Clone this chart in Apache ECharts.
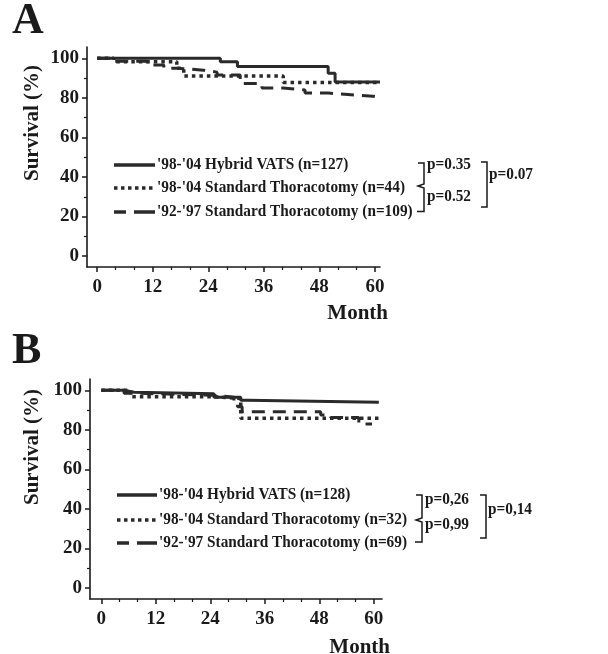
<!DOCTYPE html>
<html><head><meta charset="utf-8">
<script src="https://cdn.jsdelivr.net/npm/echarts@6/dist/echarts.min.js"></script>
<style>html,body{margin:0;padding:0;background:#fff}#c{width:608px;height:654px}</style>
</head><body><div id="c"></div>
<script>
// ---- data ----
const monthTicks = [0, 12, 24, 36, 48, 60];
const monthMinorTicks = [4, 8, 16, 20, 28, 32, 40, 44, 52, 56];
const survivalTicks = [0, 20, 40, 60, 80, 100];
const survivalMinorTicks = [10, 30, 50, 70, 90];
const seriesNames = ["'98-'04 Hybrid VATS", "'98-'04 Standard Thoracotomy", "'92-'97 Standard Thoracotomy"];

// Panel A
const aHybridMonths = [0, 26.6, 30.3, 49.9, 51.4, 61.1];
const aHybridSurv   = [100, 98.3, 95.8, 92.4, 88, 88];
const aStd9804Months = [0, 3.6, 17.2, 18.7, 40.2, 61.1];
const aStd9804Surv   = [100, 98.3, 95, 91, 87.8, 87.8];
const aStd9297Months = [0, 3.5, 10.8, 14.4, 17.2, 23, 25.9, 30.9, 35.6, 40.2, 44.9, 49.9, 54.2, 59.6, 61.1];
const aStd9297Surv   = [100, 98.5, 96.6, 95, 94, 93, 91.5, 87.3, 85, 84, 82.4, 81.7, 80.8, 80.2, 80.2];
const aLegend = ["'98-'04 Hybrid VATS (n=127)", "'98-'04 Standard Thoracotomy (n=44)", "'92-'97 Standard Thoracotomy (n=109)"];
const aPvalues = ["p=0.35", "p=0.52", "p=0.07"];

// Panel B
const bHybridMonths = [0, 5, 7.2, 24.8, 30.7, 32.1, 61.1];
const bHybridSurv   = [100, 99, 98.3, 96.5, 95, 94, 94];
const bStd9804Months = [0, 6.5, 24.8, 30.7, 61.1];
const bStd9804Surv   = [100, 96.7, 95.8, 85.8, 85.8];
const bStd9297Months = [0, 5, 8, 24.8, 29.2, 30, 31, 48.3, 50.5, 56.7, 59.6];
const bStd9297Surv   = [100, 98.5, 97.5, 96.5, 93.5, 91.7, 89.2, 87.5, 86.3, 83, 83];
const bLegend = ["'98-'04 Hybrid VATS (n=128)", "'98-'04 Standard Thoracotomy (n=32)", "'92-'97 Standard Thoracotomy (n=69)"];
const bPvalues = ["p=0,26", "p=0,99", "p=0,14"];

// ---- styling ----
const FONT = "'Liberation Serif', 'DejaVu Serif', serif";
const INK = '#1a1a1a';
const lineStyles = [
  {type: 'solid', width: 3},
  {type: [3.5, 4], width: 3.5},
  {type: [13, 8], width: 3}
];

const chart = echarts.init(document.getElementById('c'), null, {renderer: 'canvas'});

function pairs(ms, ss) { return ms.map((m, i) => [m, ss[i]]); }

const grids = [
  {left: 87, top: 47, width: 293, height: 220},
  {left: 90, top: 379, width: 292, height: 220}
];
const xRanges = [[-2.2, 61.1], [-2.5, 61.8]];
const yMin = -5.5, yMax = 105.7;

const xAxes = [], yAxes = [];
[0, 1].forEach(g => {
  xAxes.push({
    type: 'value', gridIndex: g, position: 'bottom', min: xRanges[g][0], max: xRanges[g][1],
    axisLine: {show: true, onZero: false, lineStyle: {color: INK, width: 1.6}},
    axisTick: {show: true, customValues: monthTicks, length: 5, lineStyle: {color: INK, width: 1.5}},
    axisLabel: {show: true, customValues: monthTicks, margin: 11, fontFamily: FONT, fontWeight: 'bold', fontSize: 19, color: INK},
    splitLine: {show: false}
  });
  xAxes.push({
    type: 'value', gridIndex: g, position: 'bottom', offset: 0, min: xRanges[g][0], max: xRanges[g][1],
    axisLine: {show: false, onZero: false},
    axisTick: {show: true, customValues: monthMinorTicks, length: 3, lineStyle: {color: INK, width: 1.2}},
    axisLabel: {show: false}, splitLine: {show: false}
  });
  yAxes.push({
    type: 'value', gridIndex: g, position: 'left', min: yMin, max: yMax,
    axisLine: {show: true, onZero: false, lineStyle: {color: INK, width: 1.6}},
    axisTick: {show: true, customValues: survivalTicks, length: 5, lineStyle: {color: INK, width: 1.5}},
    axisLabel: {show: true, customValues: survivalTicks, margin: 8, fontFamily: FONT, fontWeight: 'bold', fontSize: 19, color: INK},
    splitLine: {show: false}
  });
  yAxes.push({
    type: 'value', gridIndex: g, position: 'left', offset: 0, min: yMin, max: yMax,
    axisLine: {show: false, onZero: false},
    axisTick: {show: true, customValues: survivalMinorTicks, length: 3, lineStyle: {color: INK, width: 1.2}},
    axisLabel: {show: false}, splitLine: {show: false}
  });
});

const panelData = [
  [pairs(aHybridMonths, aHybridSurv), pairs(aStd9804Months, aStd9804Surv), pairs(aStd9297Months, aStd9297Surv)],
  [pairs(bHybridMonths, bHybridSurv), pairs(bStd9804Months, bStd9804Surv), pairs(bStd9297Months, bStd9297Surv)]
];
const series = [];
panelData.forEach((sets, g) => {
  sets.forEach((d, k) => {
    series.push({
      type: 'line', name: seriesNames[k], step: 'end', data: d,
      xAxisIndex: g * 2, yAxisIndex: g * 2,
      symbol: 'none', silent: true, animation: false,
      lineStyle: {color: '#2a2a2a', width: lineStyles[k].width, type: lineStyles[k].type, cap: 'butt'}
    });
  });
});

// ---- text / legend / brackets as graphics ----
const g = [];
function txt(s, x, y, size, opts) {
  g.push(Object.assign({type: 'text', x: x, y: y, silent: true,
    style: Object.assign({text: s, fill: INK, fontFamily: FONT, fontWeight: 'bold', fontSize: size, align: 'left', verticalAlign: 'middle'}, (opts && opts.style) || {})},
    (opts && opts.el) || {}));
}
function seg(x1, y1, x2, y2, w, dash) {
  g.push({type: 'line', silent: true, shape: {x1, y1, x2, y2},
    style: {stroke: '#2a2a2a', lineWidth: w, lineDash: dash || null}});
}
function poly(pts, w) {
  g.push({type: 'polyline', silent: true, shape: {points: pts}, style: {stroke: INK, fill: null, lineWidth: w}});
}
const NARROW = {scaleX: 0.9};

function panelText(p) {
  txt(p.letter, 12, p.letterY, 44, {style: {verticalAlign: 'bottom'}});
  txt('Survival (%)', 33, p.yNameCY, 21, {style: {align: 'center'}, el: {rotation: Math.PI / 2}});
  txt('Month', p.monthX, p.monthY, 21, {style: {align: 'right'}});
  const r = p.rows, x0 = p.legX0, x1 = p.legX1;
  seg(x0, r[0], x1, r[0], 3.5);
  seg(x0, r[1], x1, r[1], 3.5, [3.5, 3.5]);
  seg(x0, r[2], x0 + 12, r[2], 3.5);
  seg(x0 + 20, r[2], x1, r[2], 3.5);
  r.forEach((y, i) => txt(p.legend[i], x1 + 2, y, 17, {el: NARROW}));
  const b = p.br;
  poly([[b.ix - 6, b.top], [b.ix, b.top], [b.ix, b.mid - 2], [b.ix - 6, b.mid], [b.ix, b.mid + 2], [b.ix, b.bot], [b.ix - 7, b.bot]], 1.5);
  poly([[b.ox - 6, b.otop], [b.ox, b.otop], [b.ox, b.obot], [b.ox - 6, b.obot]], 1.5);
  txt(p.pv[0], b.ix + 3, b.p1, 17, {el: NARROW});
  txt(p.pv[1], b.ix + 3, b.p2, 17, {el: NARROW});
  txt(p.pv[2], b.ox + 2, b.p3, 17, {el: NARROW});
}

panelText({letter: 'A', letterY: 44, yNameCY: 123, monthX: 388, monthY: 314,
  rows: [165, 188, 212], legX0: 114, legX1: 155, legend: aLegend, pv: aPvalues,
  br: {ix: 424, top: 163, mid: 186, bot: 211.5, ox: 487, otop: 162, obot: 207, p1: 165, p2: 197, p3: 175}});
panelText({letter: 'B', letterY: 374, yNameCY: 447, monthX: 390, monthY: 648,
  rows: [495, 520, 543], legX0: 117, legX1: 157, legend: bLegend, pv: bPvalues,
  br: {ix: 422, top: 495, mid: 520, bot: 542, ox: 486, otop: 495, obot: 538, p1: 500, p2: 525, p3: 510}});

chart.setOption({
  animation: false,
  backgroundColor: '#fff',
  grid: grids,
  xAxis: xAxes,
  yAxis: yAxes,
  series: series,
  graphic: g
});
</script>
</body></html>
